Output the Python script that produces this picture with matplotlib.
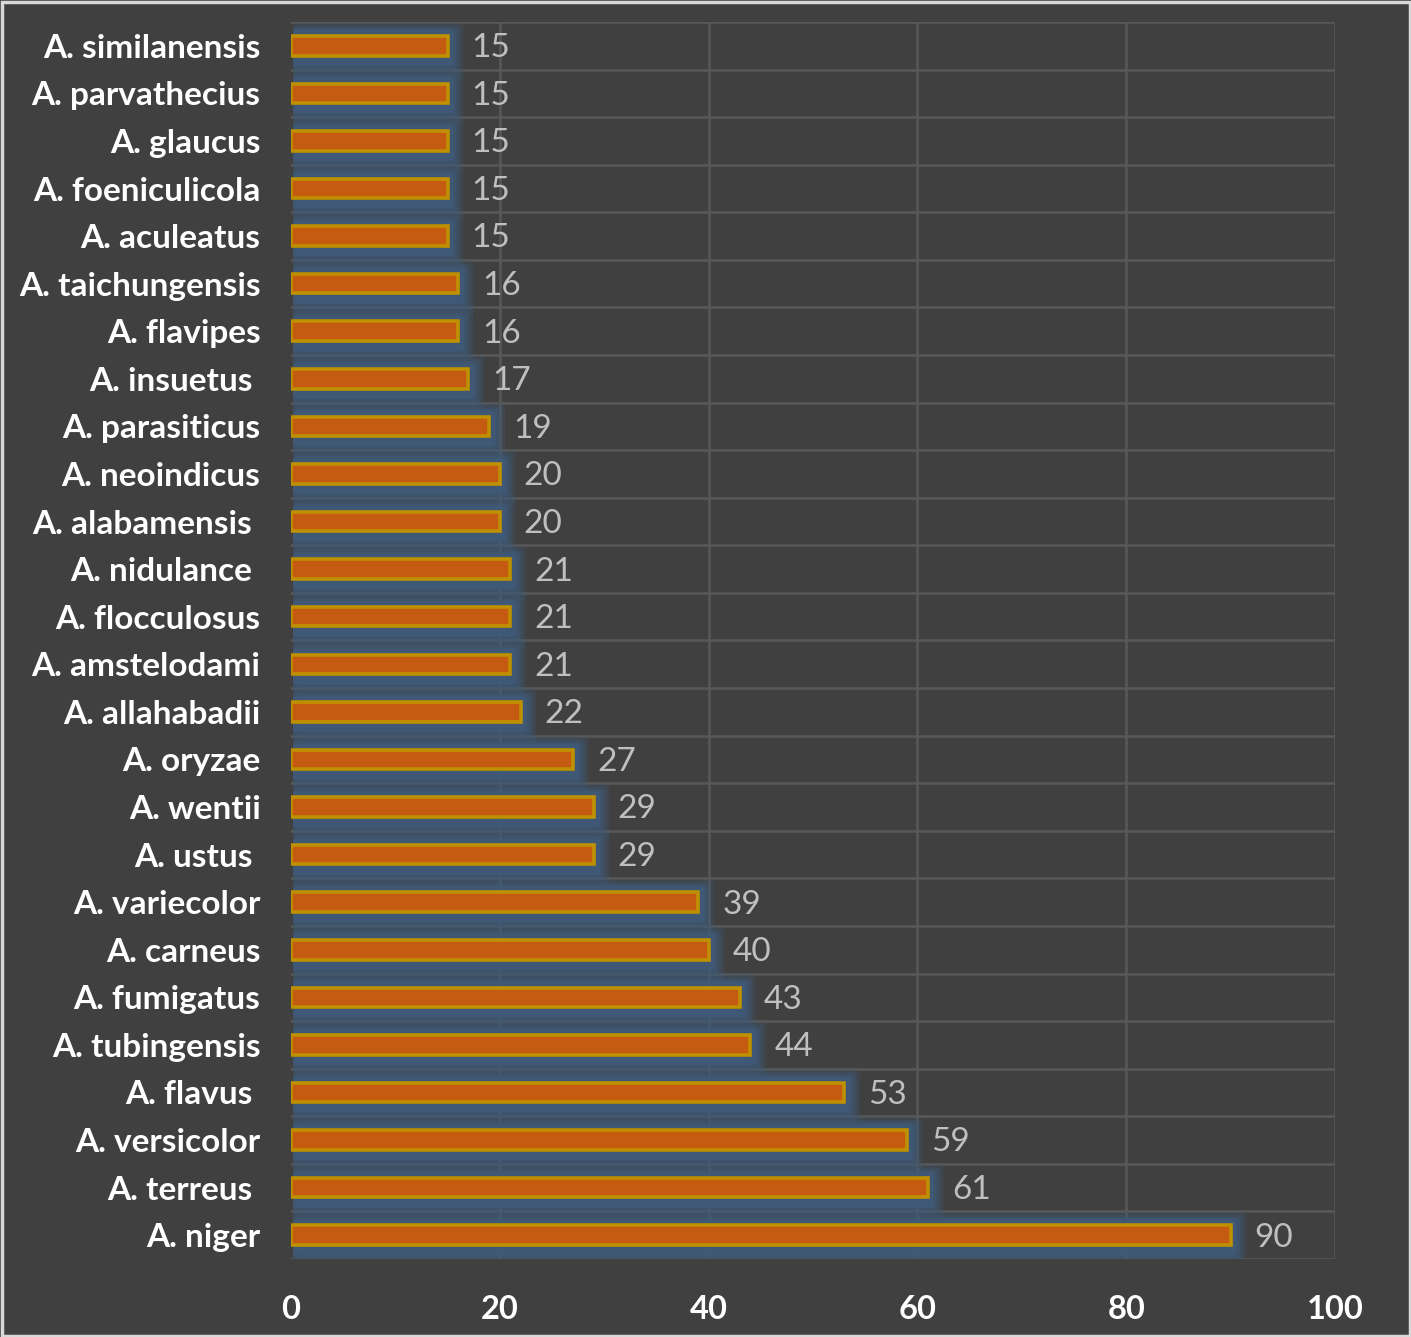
import matplotlib
matplotlib.use("Agg")
import matplotlib.pyplot as plt
from matplotlib.patches import FancyBboxPatch

species = ["A. similanensis", "A. parvathecius", "A. glaucus", "A. foeniculicola",
           "A. aculeatus", "A. taichungensis", "A. flavipes", "A. insuetus ",
           "A. parasiticus", "A. neoindicus", "A. alabamensis ", "A. nidulance ",
           "A. flocculosus", "A. amstelodami", "A. allahabadii", "A. oryzae",
           "A. wentii", "A. ustus ", "A. variecolor", "A. carneus",
           "A. fumigatus", "A. tubingensis", "A. flavus ", "A. versicolor",
           "A. terreus ", "A. niger"]
counts = [15, 15, 15, 15, 15, 16, 16, 17, 19, 20, 20, 21, 21, 21, 22, 27, 29, 29,
          39, 40, 43, 44, 53, 59, 61, 90]
xticks = [0, 20, 40, 60, 80, 100]

BG = "#404040"
plt.rcParams['font.family'] = ['Lato', 'DejaVu Sans']

fig = plt.figure(figsize=(14.11, 13.37), dpi=100, facecolor=BG)
# light border
fig.patches.append(plt.Rectangle((1.5/1411, 1.5/1337), 1 - 3/1411, 1 - 3/1337,
                                 transform=fig.transFigure, facecolor="none",
                                 edgecolor="#d9d9d9", lw=2.5, zorder=10))
ax = fig.add_axes([291/1411, 1 - 1259/1337, (1335 - 291)/1411, (1259 - 22)/1337])
ax.set_facecolor("none")

n = len(species)
ys = list(range(n))
ax.set_xlim(0, 100)
ax.set_ylim(n - 0.5, -0.5)

# grid lines
for v in xticks[1:]:
    ax.axvline(v, color="#585858", lw=1.8, zorder=0)
for i in range(n + 1):
    ax.axhline(i - 0.5, color="#585858", lw=1.8, zorder=0)

bh = 0.41
# glow behind bars (soft, offset downward)
layers = [(0.46, 0.28, 1.5, 0.25), (0.38, 0.22, 1.2, 0.35), (0.30, 0.17, 0.9, 0.5),
          (0.22, 0.13, 0.6, 0.8)]
for y, c in zip(ys, counts):
    top = y - bh / 2
    bot = y + bh / 2
    for below, above, right, a in layers:
        g = FancyBboxPatch((0.2, top - above), c - 0.2 + right,
                           (bot + below) - (top - above),
                           boxstyle="round,pad=0,rounding_size=0.6",
                           facecolor="#3e5a78", edgecolor="none", alpha=a,
                           zorder=1, mutation_aspect=0.1)
        ax.add_patch(g)

ax.barh(ys, counts, height=bh, color="#c55a11", edgecolor="#bf9000",
        linewidth=2.6, zorder=3)

for y, c in zip(ys, counts):
    ax.text(c + 2.3, y + 0.05, str(c), color="#bfbfbf", fontsize=24,
            va="center", ha="left", zorder=4)

ax.set_yticks(ys)
ax.set_yticklabels(species, color="white", fontsize=24, fontweight="bold")
ax.set_xticks(xticks)
ax.set_xticklabels([str(t) for t in xticks], color="white", fontsize=23.5,
                   fontweight="bold")
ax.tick_params(axis="both", length=0)
ax.tick_params(axis="y", pad=22)
ax.tick_params(axis="x", pad=26)
for s in ax.spines.values():
    s.set_visible(False)

fig.savefig("out.png", dpi=100, facecolor=fig.get_facecolor())
